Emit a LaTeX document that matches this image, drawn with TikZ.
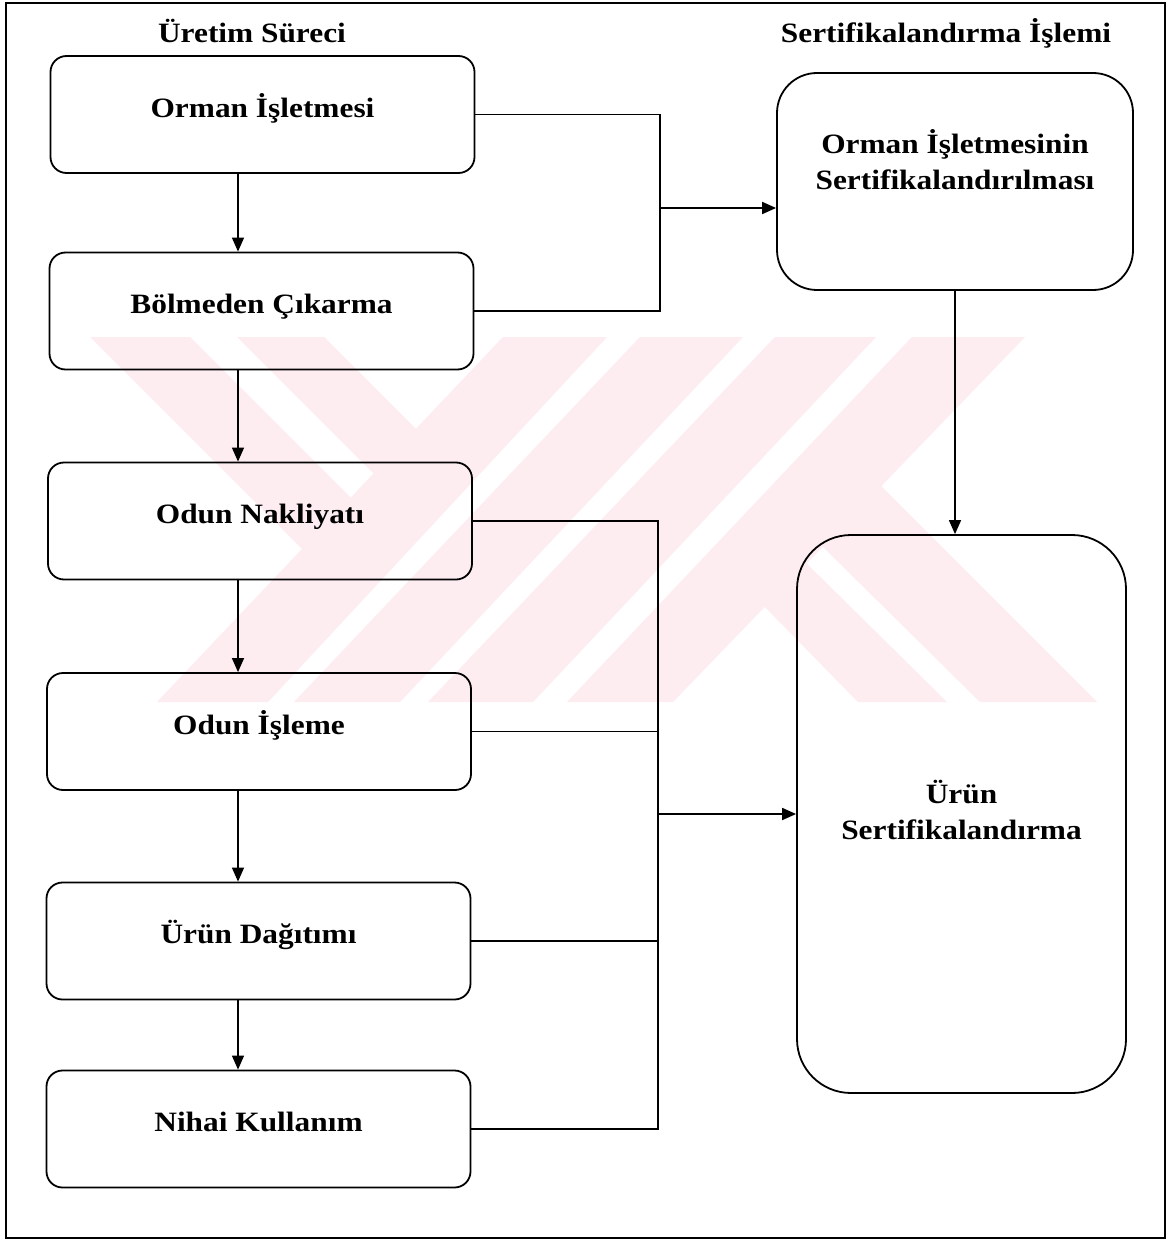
\documentclass[tikz,border=0pt]{standalone}
\usepackage{fontspec}
\setmainfont{Liberation Serif}[FakeStretch=1.12]
\usetikzlibrary{arrows.meta}
\definecolor{wmpink}{RGB}{253,236,240}
\newcommand{\rtxt}[2]{\raisebox{#1}[0pt][0pt]{#2}}
\begin{document}
\begin{tikzpicture}[x=0.5pt,y=-0.5pt,
  txt/.style={font=\fontsize{14}{18.3}\selectfont\bfseries, text=black},
  lbox/.style={txt, draw, line width=0.9pt, rounded corners=8pt, minimum width=212pt, minimum height=58.5pt, inner sep=0pt},
  rboxA/.style={txt, draw, line width=0.9pt, rounded corners=20pt, minimum width=178pt, minimum height=108.5pt, inner sep=0pt},
  rboxB/.style={txt, draw, line width=0.9pt, rounded corners=27pt, minimum width=164.5pt, minimum height=279pt, inner sep=0pt},
  head/.style={txt, anchor=base, inner sep=0pt},
  conn/.style={line width=0.9pt},
  arr/.style={line width=0.7pt, -{Triangle[length=7pt,width=6pt]}},
  harr/.style={line width=0.9pt, -{Triangle[length=7pt,width=6pt]}},
  wmark/.style={fill=wmpink, draw=none}]
% page and frame
\path[use as bounding box, fill=white] (0,0) rectangle (1173,1241);
\draw[line width=1.4pt] (6,3) rectangle (1165,1238);
% watermark
\path[wmark] (90,337) -- (190,337) -- (355,502) -- (307,554) -- cycle;
\path[wmark] (237,337) -- (324,337) -- (421,434) -- (379,479) -- cycle;
\path[wmark] (503,337) -- (607,337) -- (268,702) -- (157,702) -- cycle;
\path[wmark] (640,337) -- (743,337) -- (400,702) -- (294,702) -- cycle;
\path[wmark] (775,337) -- (876,337) -- (533,702) -- (428,702) -- cycle;
\path[wmark] (912,337) -- (1025,337) -- (673,702) -- (567,702) -- cycle;
\path[wmark] (876,481) -- (1097,702) -- (980,702) -- (817,541) -- cycle;
\path[wmark] (801,558) -- (947,702) -- (858,702) -- (760,602) -- cycle;
% headings
\node[head] (h1) at (252,43) {Üretim Süreci};
\node[head] (h2) at (946,43) {Sertifikalandırma İşlemi};
% left column
\node[lbox] (b1) at (262.5,114.5) {\rtxt{-1.3pt}{Orman İşletmesi}};
\node[lbox] (b2) at (261.5,311) {\rtxt{-1.3pt}{Bölmeden Çıkarma}};
\node[lbox] (b3) at (260,521) {\rtxt{-1.3pt}{Odun Nakliyatı}};
\node[lbox] (b4) at (259,731.5) {\rtxt{-1.3pt}{Odun İşleme}};
\node[lbox] (b5) at (258.5,941) {\rtxt{-1.3pt}{Ürün Dağıtımı}};
\node[lbox] (b6) at (258.5,1129) {\rtxt{-1.3pt}{Nihai Kullanım}};
% right column
\node[rboxA] (rA) at (955,181.5) {\rtxt{5pt}{\begin{tabular}{@{}c@{}}Orman İşletmesinin\\Sertifikalandırılması\end{tabular}}};
\node[rboxB] (rB) at (961.5,814) {\rtxt{-3.6pt}{\begin{tabular}{@{}c@{}}Ürün\\Sertifikalandırma\end{tabular}}};
% helper coordinates
\coordinate (ax) at (238,0);
\coordinate (j1) at (660,208);
\coordinate (j2) at (658,814);
% vertical arrows
\draw[arr] (b1.south -| ax) -- (b2.north -| ax);
\draw[arr] (b2.south -| ax) -- (b3.north -| ax);
\draw[arr] (b3.south -| ax) -- (b4.north -| ax);
\draw[arr] (b4.south -| ax) -- (b5.north -| ax);
\draw[arr] (b5.south -| ax) -- (b6.north -| ax);
\draw[arr] (rA.south) -- (rA.south |- rB.north);
% upper bus
\draw[conn] (b1.east) -| (j1);
\draw[conn] (b2.east) -| (j1);
\draw[harr] (j1) -- (rA.west |- j1);
% lower bus
\draw[conn] (b3.east) -| (j2);
\draw[conn] (b4.east) -| (j2);
\draw[conn] (b5.east) -| (j2);
\draw[conn] (b6.east) -| (j2);
\draw[harr] (j2) -- (rB.west |- j2);
\end{tikzpicture}
\end{document}
